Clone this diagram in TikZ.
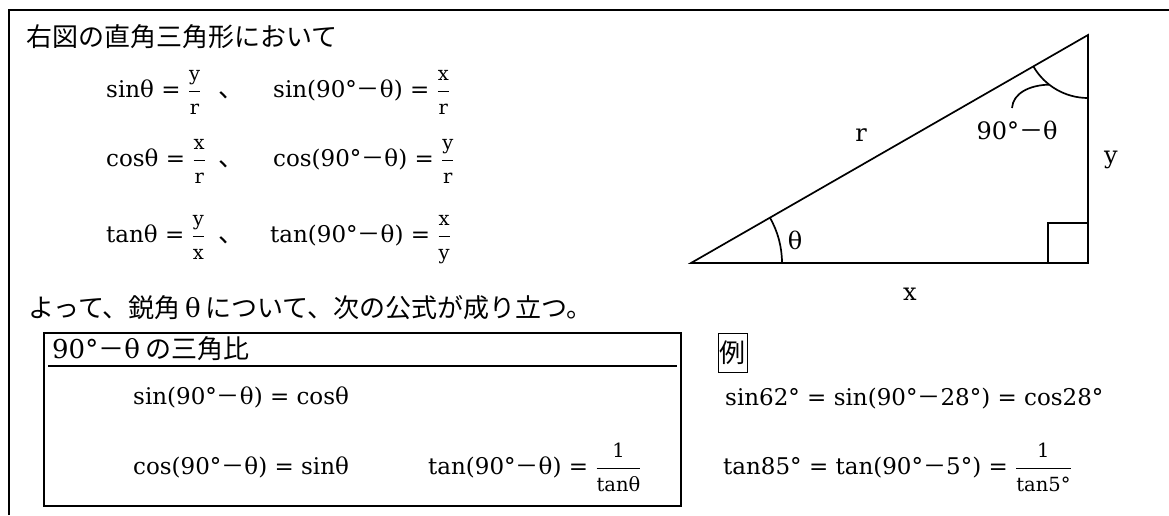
\documentclass[tikz,border=0pt]{standalone}
\usepackage{fontspec}
\setmainfont{DejaVu Serif}
\newfontfamily\cjk{Noto Sans CJK JP}
\newfontfamily\lat{DejaVu Serif}
\newcommand{\fsz}{\fontsize{23}{27}\selectfont}
\newcommand{\jsz}{\cjk\fontsize{26}{30}\selectfont}
\newcommand{\smallfr}{\fontsize{19.5}{21}\selectfont}
\newcommand{\fr}[2]{$\displaystyle\frac{\hbox{\smallfr #1}}{\hbox{\smallfr #2}}$}
\newcommand{\mn}{{\cjk －}}
\begin{document}
\begin{tikzpicture}[x=1pt,y=-1pt,
  eq/.style={anchor=base west, inner sep=0pt, font=\fsz},
  jp/.style={anchor=base west, inner sep=0pt, font=\jsz},
  lbl/.style={inner sep=0pt, font=\fontsize{24}{28}\selectfont},
  tri/.style={line width=1.7pt, line join=miter},
  frameline/.style={line width=2pt},
  boxline/.style={draw, line width=2.2pt, inner sep=0pt}]
\useasboundingbox (0,0) rectangle (1169,515);
\fill[white] (0,0) rectangle (1169,515);
% outer frame
\draw[frameline] (9,515) -- (9,10) -- (1169,10);
% text top-left
\node[jp] (t1) at (26,46) {右図の直角三角形において};
\node[eq] (s1) at (106,97) {sinθ = \fr{y}{r}};
\node[jp] (c1) at (218,97) {、};
\node[eq] (s2) at (273,97) {sin(90°\mn θ) = \fr{x}{r}};
\node[eq] (k1) at (106,166) {cosθ = \fr{x}{r}};
\node[jp] (c2) at (218,166) {、};
\node[eq] (k2) at (273,166) {cos(90°\mn θ) = \fr{y}{r}};
\node[eq] (u1) at (106,242) {tanθ = \fr{y}{x}};
\node[jp] (c3) at (218,242) {、};
\node[eq] (u2) at (270,242) {tan(90°\mn θ) = \fr{x}{y}};
\node[jp] (t2) at (28,317) {よって、鋭角\,{\lat θ}\,について、次の公式が成り立つ。};
% formula box
\node[boxline, anchor=north west, minimum width=637pt, minimum height=173pt] (bx) at (43,332) {};
\node[jp] (bt) at (52,358) {{\lat 90°}\mn{\lat θ} の三角比};
\draw[line width=1.2pt] (48,366) -- (677,366);
\node[eq] (b1) at (133,404) {sin(90°\mn θ) = cosθ};
\node[eq] (b2) at (133,474) {cos(90°\mn θ) = sinθ};
\node[eq] (b3) at (428,474) {tan(90°\mn θ) = \fr{1}{tanθ}};
% example
\node[draw, line width=1pt, inner sep=0pt, minimum width=29pt, minimum height=39pt, font=\jsz] (rei) at (732.5,352.5) {例};
\node[eq] (e1) at (725,405) {sin62° = sin(90°\mn 28°) = cos28°};
\node[eq] (e2) at (723,474) {tan85° = tan(90°\mn 5°) = \fr{1}{tan5°}};
% triangle
\coordinate (A) at (691,263);
\coordinate (B) at (1088,263);
\coordinate (C) at (1088,35);
\draw[tri] (A) -- (B) -- (C) -- cycle;
\draw[tri] (1048,263) -- (1048,223) -- (1088,223);
\draw[tri] ([shift={(0:91)}]A) arc[start angle=0, end angle=-30, radius=91];
\draw[tri] ([shift={(90:63)}]C) arc[start angle=90, end angle=150, radius=63];
\path (C) ++(128:63) coordinate (P);
\coordinate (Q) at (1012,108);
\draw[tri] (P) .. controls (1030,85) and (1013,93) .. (Q);
\node[lbl] (lr) at (861,135) {r};
\node[lbl] (ly) at (1111,160) {y};
\node[lbl] (lx) at (910,294) {x};
\node[lbl] (lt) at (795,240) {θ};
\node[lbl] (la) at (1017,130) {90°\mn θ};
\end{tikzpicture}
\end{document}
